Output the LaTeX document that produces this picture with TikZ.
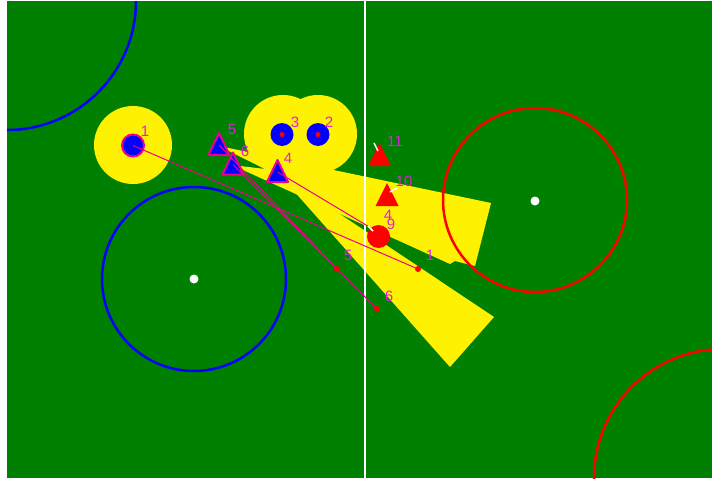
\documentclass[tikz,border=0pt]{standalone}
\usepackage{fontspec}
\setmainfont{Liberation Sans}
\definecolor{fieldgreen}{RGB}{0,128,0}
\definecolor{lblcol}{RGB}{225,30,225}
\tikzset{
  fieldline/.style={line width=2.5pt},
  mline/.style={magenta, line width=1pt},
  enddot/.style={red},
  lbl/.style={text=lblcol, inner sep=0pt, font=\fontsize{15}{15}\selectfont},
  tick/.style={white, line width=1.5pt},
  bplayer/.style={circle, fill=blue, inner sep=0pt, minimum size=23pt},
  bplayerhl/.style={circle, fill=blue, draw=magenta, line width=2pt, inner sep=0pt, minimum size=22pt},
  rplayer/.style={circle, fill=red, inner sep=0pt, minimum size=23pt},
  btri/.style={fill=blue, draw=magenta, line width=2pt, line join=round},
  rtri/.style={fill=red}
}
\begin{document}
\begin{tikzpicture}[x=1pt,y=-1pt]
\useasboundingbox (0,0) rectangle (712,479);
\fill[white] (0,0) rectangle (712,479);
\fill[fieldgreen] (7,1) rectangle (712,478);

% yellow zones
\fill[yellow] (133,145) circle[radius=39pt];
\fill[yellow] (283,134) circle[radius=39pt];
\fill[yellow] (318,134) circle[radius=39pt];
\fill[yellow] (219,146) -- (491,203) -- (475,266) -- (455,261) -- (450,264) -- (232,165) -- (265,169) -- cycle;
\fill[yellow] (277,172) -- (494,317) -- (450,367) -- cycle;

% field lines
\draw[white, line width=2.2pt] (365,1) -- (365,478);
\begin{scope}
\clip (7,1) rectangle (712,478);
\draw[blue, fieldline] (7,1) circle[radius=129pt];
\draw[red, fieldline] (723,478) circle[radius=129pt];
\end{scope}
\draw[blue, fieldline] (194,279) circle[radius=92pt];
\draw[red, fieldline] (535,200) circle[radius=92pt];
\fill[white] (194,279) circle[radius=4.5pt];
\fill[white] (535,201) circle[radius=4.5pt];

% players
\node[bplayerhl] (p1) at (133,145.5) {};
\node[bplayer] (p3) at (282,134.5) {};
\node[bplayer] (p2) at (318,134.5) {};
\fill[red] (p3.center) circle[radius=2.5pt];
\fill[red] (p2.center) circle[radius=2.5pt];

\coordinate (b5) at (219,145);
\coordinate (b6) at (233,164.5);
\coordinate (b4) at (277.5,172);
\foreach \c in {b5,b6,b4}{
  \draw[btri] (\c) ++(0,-12) -- ++(10.5,22) -- ++(-21,0) -- cycle;
}
\coordinate (r11) at (379.5,155);
\coordinate (r10) at (387,195);
\foreach \c in {r11,r10}{
  \fill[rtri] (\c) ++(0,-12) -- ++(11.5,23) -- ++(-23,0) -- cycle;
}
\node[rplayer] (r9) at (378.5,236.5) {};

% pass lines
\coordinate (e1) at (418,269);
\coordinate (e4) at (371,228);
\coordinate (e5) at (337,269);
\coordinate (e6) at (377,309);
\draw[mline] (p1.center) -- (e1);
\draw[mline] (b4) -- (e4);
\draw[mline] (b5) -- (e5);
\draw[mline] (b6) -- (e6);
\foreach \e in {e1,e5,e6}{ \fill[enddot] (\e) circle[radius=3pt]; }

% orientation ticks
\draw[tick] (374,143) -- (378,151);
\draw[tick] (390,192) -- (397,188);
\draw[tick] (368,226) -- (373,231);

% labels
\node[lbl] at (145,131) {1};
\node[lbl] at (295,122) {3};
\node[lbl] at (329,122) {2};
\node[lbl] at (232,129) {5};
\node[lbl] at (245,151) {6};
\node[lbl] at (288,158) {4};
\node[lbl] at (395,141) {11};
\node[lbl] at (404,181) {10};
\node[lbl] at (388,215) {4};
\node[lbl] at (391,224) {9};
\node[lbl] at (430,255) {1};
\node[lbl] at (348,255) {5};
\node[lbl] at (389,296) {6};
\end{tikzpicture}
\end{document}
